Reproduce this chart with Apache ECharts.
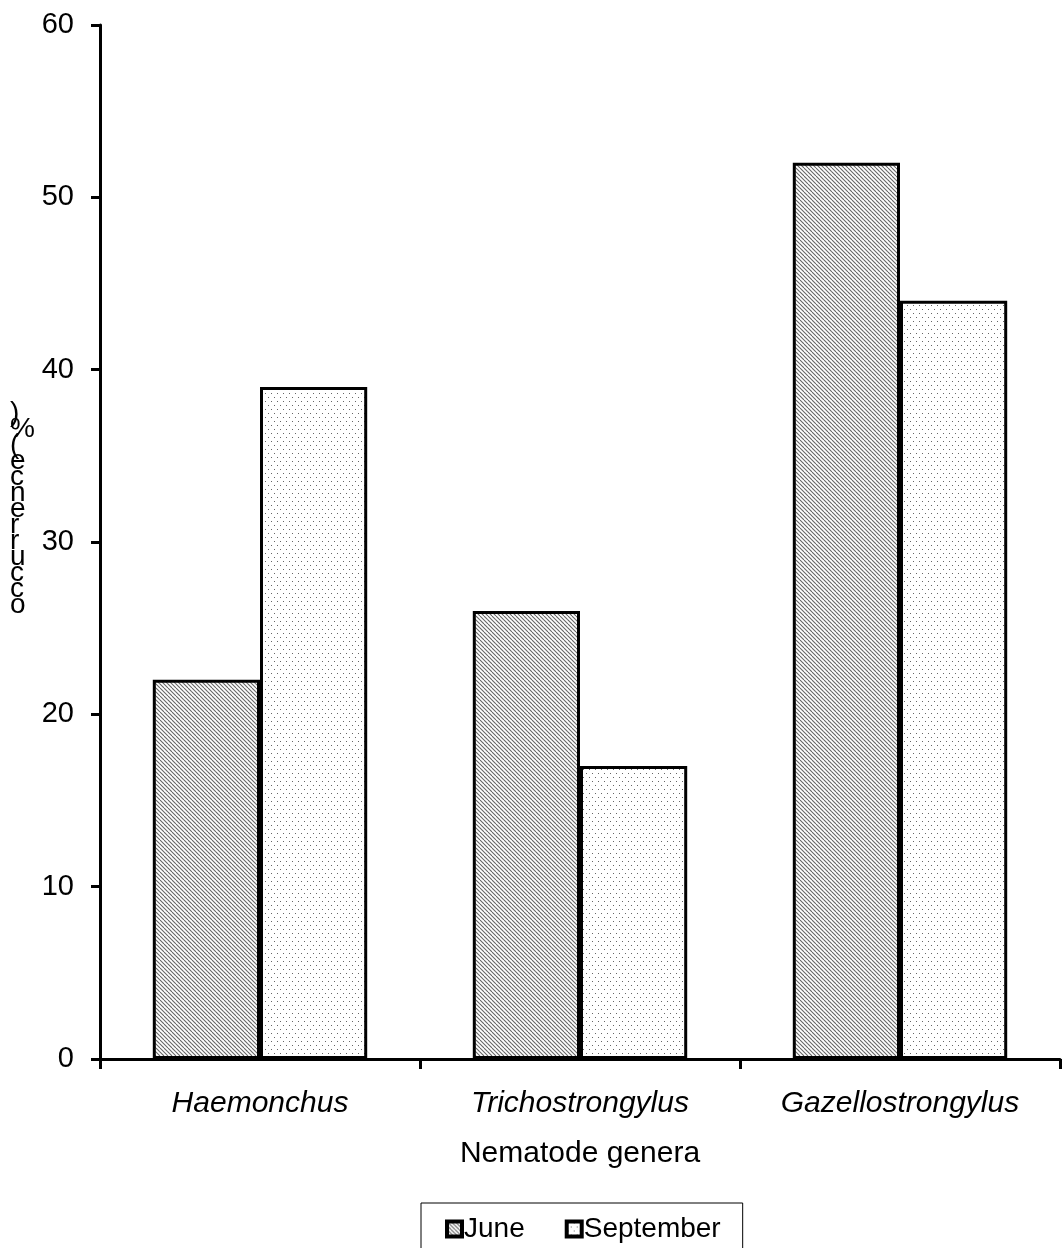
<!DOCTYPE html>
<html>
<head>
<meta charset="utf-8">
<script src="https://cdn.jsdelivr.net/npm/echarts@6/dist/echarts.min.js"></script>
<style>
  html, body { margin: 0; padding: 0; background: #fff; }
  #chart { width: 1062px; height: 1248px; }
</style>
</head>
<body>
<div id="chart"></div>
<script>
const genera = ["Haemonchus", "Trichostrongylus", "Gazellostrongylus"];
const june = [22, 26, 52];
const september = [39, 17, 44];
const yLabel = "occurrence(%)";

function hatch() {
  const c = document.createElement("canvas");
  c.width = 8;
  c.height = 8;
  const ctx = c.getContext("2d");
  ctx.fillStyle = "#fff";
  ctx.fillRect(0, 0, 8, 8);
  ctx.strokeStyle = "#666";
  ctx.lineWidth = 1.1;
  for (let k = -8; k <= 8; k += 4) {
    ctx.beginPath();
    ctx.moveTo(k, 0);
    ctx.lineTo(k + 8, 8);
    ctx.stroke();
  }
  return c;
}
function dots() {
  const c = document.createElement("canvas");
  c.width = 6;
  c.height = 8;
  const ctx = c.getContext("2d");
  ctx.fillStyle = "#fff";
  ctx.fillRect(0, 0, 6, 8);
  ctx.fillStyle = "#666";
  ctx.fillRect(1, 1, 1, 1);
  ctx.fillRect(4, 5, 1, 1);
  return c;
}

const chart = echarts.init(document.querySelector("#chart"));
const font = "Liberation Sans, Arial, sans-serif";
chart.setOption({
  animation: false,
  textStyle: { fontFamily: font },
  grid: { left: 100, right: 2, top: 25, bottom: 189 },
  legend: {
    top: 1203,
    left: 421,
    icon: "rect",
    itemWidth: 15,
    itemHeight: 15,
    itemGap: 40,
    borderColor: "#000",
    borderWidth: 1,
    padding: [12, 22, 20, 24],
    textStyle: { fontSize: 28, color: "#000", fontFamily: font, padding: [0, 0, 0, -3] },
    itemStyle: { borderColor: "#000", borderWidth: 4 },
    data: ["June", "September"]
  },
  xAxis: {
    type: "category",
    data: genera,
    name: "Nematode genera",
    nameLocation: "middle",
    nameGap: 80,
    nameTextStyle: { fontSize: 30, color: "#000" },
    axisLine: { lineStyle: { color: "#000", width: 3 } },
    axisTick: { show: true, length: 10, lineStyle: { color: "#000", width: 3 } },
    axisLabel: { fontSize: 30, fontStyle: "italic", color: "#000", margin: 30 }
  },
  yAxis: {
    type: "value",
    min: 0,
    max: 60,
    interval: 10,
    splitLine: { show: false },
    axisLine: { show: true, lineStyle: { color: "#000", width: 3 } },
    axisTick: { show: true, length: 9, lineStyle: { color: "#000", width: 3 } },
    axisLabel: { fontSize: 29, color: "#000", margin: 26 }
  },
  graphic: [{
    type: "text",
    left: 10,
    top: 399,
    style: {
      text: yLabel.split("").reverse().join("\n"),
      fontSize: 28,
      fontFamily: font,
      lineHeight: 16,
      fill: "#000",
      align: "center"
    }
  }],
  series: [
    {
      name: "June",
      type: "bar",
      data: june,
      barGap: "0%",
      barCategoryGap: "33%",
      itemStyle: { color: { image: hatch(), repeat: "repeat" }, borderColor: "#000", borderWidth: 3 }
    },
    {
      name: "September",
      type: "bar",
      data: september,
      itemStyle: { color: { image: dots(), repeat: "repeat" }, borderColor: "#000", borderWidth: 3 }
    }
  ]
});
</script>
</body>
</html>
